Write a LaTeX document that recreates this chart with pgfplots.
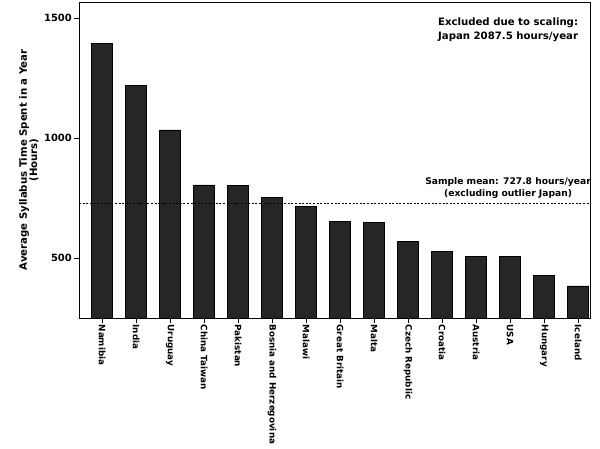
\documentclass[border=0pt]{standalone}
\usepackage{fontspec}
\setmainfont{DejaVu Sans}
\usepackage{pgfplots}
\pgfplotsset{compat=1.18}
\definecolor{barfill}{HTML}{262626}
\begin{document}
\begin{tikzpicture}[x=1bp,y=1bp]
\begin{axis}[
  at={(0,0)}, anchor=south west,
  scale only axis, width=511bp, height=316bp,
  xmin=-0.68, xmax=14.35,
  ymin=250, ymax=1567,
  ytick={500,1000,1500},
  xtick={0,...,14},
  xticklabels={Namibia,India,Uruguay,China Taiwan,Pakistan,Bosnia and Herzegovina,Malawi,Great Britain,Malta,Czech Republic,Croatia,Austria,USA,Hungary,Iceland},
  xticklabel style={rotate=-90, anchor=west, font=\fontsize{8.8}{10}\selectfont\bfseries, inner sep=1.5bp},
  yticklabel style={font=\fontsize{10}{11}\selectfont\bfseries, inner sep=2bp},
  /pgf/number format/assume math mode=true,
  /pgf/number format/set thousands separator={},
  tick align=outside,
  xtick pos=bottom, ytick pos=left,
  major tick length=5bp,
  tick style={black, line width=0.8pt},
  axis line style={line width=0.8pt},
  ylabel={Average Syllabus Time Spent in a Year\\(Hours)},
  ylabel style={align=center, font=\fontsize{10.2}{10.5}\selectfont\bfseries},
  clip=false,
]
\addplot[ybar, bar width=21bp, fill=barfill, draw=black, line width=0.6pt] coordinates {
(0,1396) (1,1221) (2,1034) (3,805) (4,802) (5,753) (6,716) (7,652) (8,648) (9,569) (10,528) (11,506) (12,506) (13,429) (14,384)
};
\draw[black, line width=1.1pt, dash pattern=on 2bp off 1.6bp] (axis cs:-0.68,727.8) -- (axis cs:14.35,727.8);
\node[align=center, font=\fontsize{10.2}{14}\selectfont\bfseries] at (axis cs:11.94,1452) {Excluded due to scaling:\\Japan 2087.5 hours/year};
\node[align=center, font=\fontsize{9.2}{11.5}\selectfont\bfseries] at (axis cs:11.94,792) {Sample mean: 727.8 hours/year\\(excluding outlier Japan)};
\end{axis}
\pgfresetboundingbox
\path (-79,-131) rectangle (521,318);
\end{tikzpicture}
\end{document}
